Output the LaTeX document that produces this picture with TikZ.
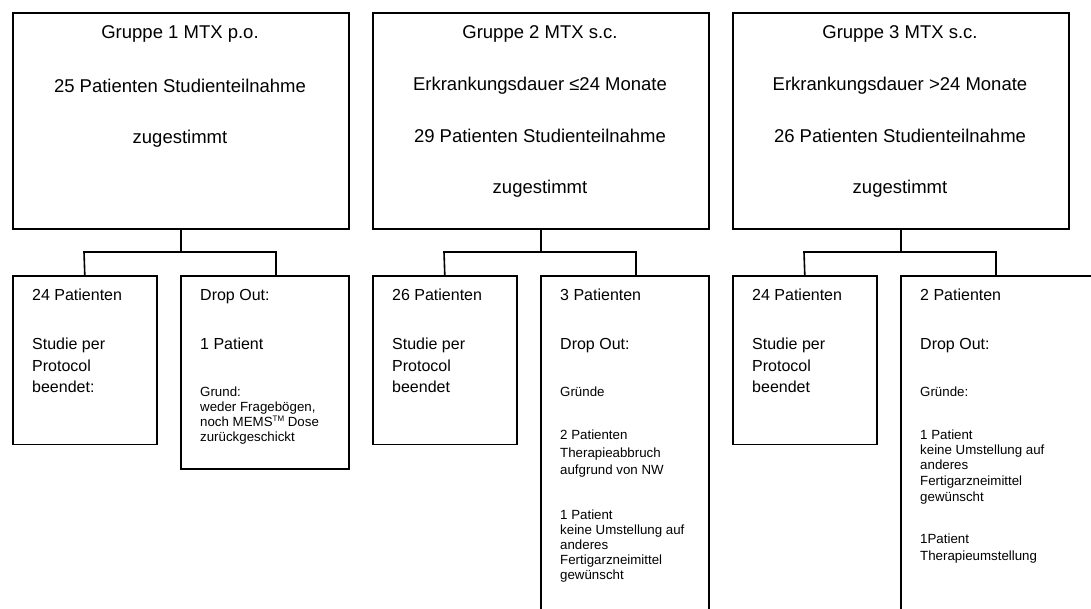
\documentclass[tikz,border=0pt]{standalone}
\usepackage{fontspec}
\setmainfont{Liberation Sans}
\begin{document}
\begin{tikzpicture}[x=1pt,y=-1pt,
  box/.style={draw,line width=1.6pt,rectangle,inner sep=0pt,anchor=north west},
  line/.style={line width=1.6pt},
  big/.style={font=\fontsize{18.5}{22}\selectfont,inner sep=0pt,text height=0.716em,text depth=0pt,anchor=center},
  mid/.style={font=\fontsize{16}{19}\selectfont,inner sep=0pt,text height=0.716em,text depth=0pt,anchor=west},
  sml/.style={font=\fontsize{13.3}{15}\selectfont,inner sep=0pt,text height=0.716em,text depth=0pt,anchor=west}]
\useasboundingbox (0,0) rectangle (1091,608);
\clip (0,0) rectangle (1091,608);

% upper group boxes
\node[box,minimum width=336pt,minimum height=216pt] (top1) at (12,12) {};
\node[box,minimum width=336pt,minimum height=216pt] (top2) at (372,12) {};
\node[box,minimum width=336pt,minimum height=216pt] (top3) at (732,12) {};

% lower result boxes
\node[box,minimum width=144pt,minimum height=168.5pt] (g1L) at (12,275) {};
\node[box,minimum width=168pt,minimum height=193pt] (g1R) at (180,275) {};
\node[box,minimum width=144pt,minimum height=168.5pt] (g2L) at (372,275) {};
\node[box,minimum width=168pt,minimum height=400pt] (g2R) at (540,275) {};
\node[box,minimum width=144pt,minimum height=168.5pt] (g3L) at (732,275) {};
\node[box,minimum width=300pt,minimum height=400pt] (g3R) at (900,275) {};

% branch points
\coordinate (j1a) at (84,252);  \coordinate (j1b) at (276,252);
\coordinate (j2a) at (444,252); \coordinate (j2b) at (636,252);
\coordinate (j3a) at (804,252); \coordinate (j3b) at (996,252);

\draw[line] (top1.south) -- (top1.south |- j1a);
\draw[line] (g1L.north) -- (j1a) -- (j1b) -- (j1b |- g1R.north);
\draw[line] (top2.south) -- (top2.south |- j2a);
\draw[line] (g2L.north) -- (j2a) -- (j2b) -- (j2b |- g2R.north);
\draw[line] (top3.south) -- (top3.south |- j3a);
\draw[line] (g3L.north) -- (j3a) -- (j3b) -- (j3b |- g3R.north);

\begin{scope}[shift={(0,2)}]
% group headings
\node[big] (t1a) at (180,33) {Gruppe 1 MTX p.o.};
\node[big] (t1b) at (180,87) {25 Patienten Studienteilnahme};
\node[big] (t1c) at (180,138) {zugestimmt};

\node[big] (t2a) at (540,33) {Gruppe 2 MTX s.c.};
\node[big] (t2b) at (540,85) {Erkrankungsdauer ≤24 Monate};
\node[big] (t2c) at (540,137) {29 Patienten Studienteilnahme};
\node[big] (t2d) at (540,188) {zugestimmt};

\node[big] (t3a) at (900,33) {Gruppe 3 MTX s.c.};
\node[big] (t3b) at (900,85) {Erkrankungsdauer >24 Monate};
\node[big] (t3c) at (900,137) {26 Patienten Studienteilnahme};
\node[big] (t3d) at (900,188) {zugestimmt};

% group 1 results
\node[mid] (l1a) at (32,295) {24 Patienten};
\node[mid] (l1b) at (32,344) {Studie per};
\node[mid] (l1c) at (32,365.5) {Protocol};
\node[mid] (l1d) at (32,387) {beendet:};

\node[mid] (r1a) at (200,295) {Drop Out:};
\node[mid] (r1b) at (200,344) {1 Patient};
\node[sml] (r1c) at (200,391) {Grund:};
\node[sml] (r1d) at (200,406) {weder Fragebögen,};
\node[sml] (r1e) at (200,421) {noch MEMS\raisebox{0.75ex}{\fontsize{8}{8}\selectfont TM} Dose};
\node[sml] (r1f) at (200,436) {zurückgeschickt};

% group 2 results
\node[mid] (l2a) at (392,295) {26 Patienten};
\node[mid] (l2b) at (392,344) {Studie per};
\node[mid] (l2c) at (392,365.5) {Protocol};
\node[mid] (l2d) at (392,387) {beendet};

\node[mid] (r2a) at (560,295) {3 Patienten};
\node[mid] (r2b) at (560,344) {Drop Out:};
\node[sml] (r2c) at (560,391) {Gründe};
\node[sml] (r2d) at (560,434) {2 Patienten};
\node[sml] (r2e) at (560,452) {Therapieabbruch};
\node[sml] (r2f) at (560,469) {aufgrund von NW};
\node[sml] (r2g) at (560,514) {1 Patient};
\node[sml] (r2h) at (560,529) {keine Umstellung auf};
\node[sml] (r2i) at (560,544) {anderes};
\node[sml] (r2j) at (560,559) {Fertigarzneimittel};
\node[sml] (r2k) at (560,574) {gewünscht};

% group 3 results
\node[mid] (l3a) at (752,295) {24 Patienten};
\node[mid] (l3b) at (752,344) {Studie per};
\node[mid] (l3c) at (752,365.5) {Protocol};
\node[mid] (l3d) at (752,387) {beendet};

\node[mid] (r3a) at (920,295) {2 Patienten};
\node[mid] (r3b) at (920,344) {Drop Out:};
\node[sml] (r3c) at (920,391) {Gründe:};
\node[sml] (r3d) at (920,434) {1 Patient};
\node[sml] (r3e) at (920,449) {keine Umstellung auf};
\node[sml] (r3f) at (920,464) {anderes};
\node[sml] (r3g) at (920,480) {Fertigarzneimittel};
\node[sml] (r3h) at (920,496) {gewünscht};
\node[sml] (r3i) at (920,538) {1Patient};
\node[sml] (r3j) at (920,555) {Therapieumstellung};
\end{scope}
\end{tikzpicture}
\end{document}
